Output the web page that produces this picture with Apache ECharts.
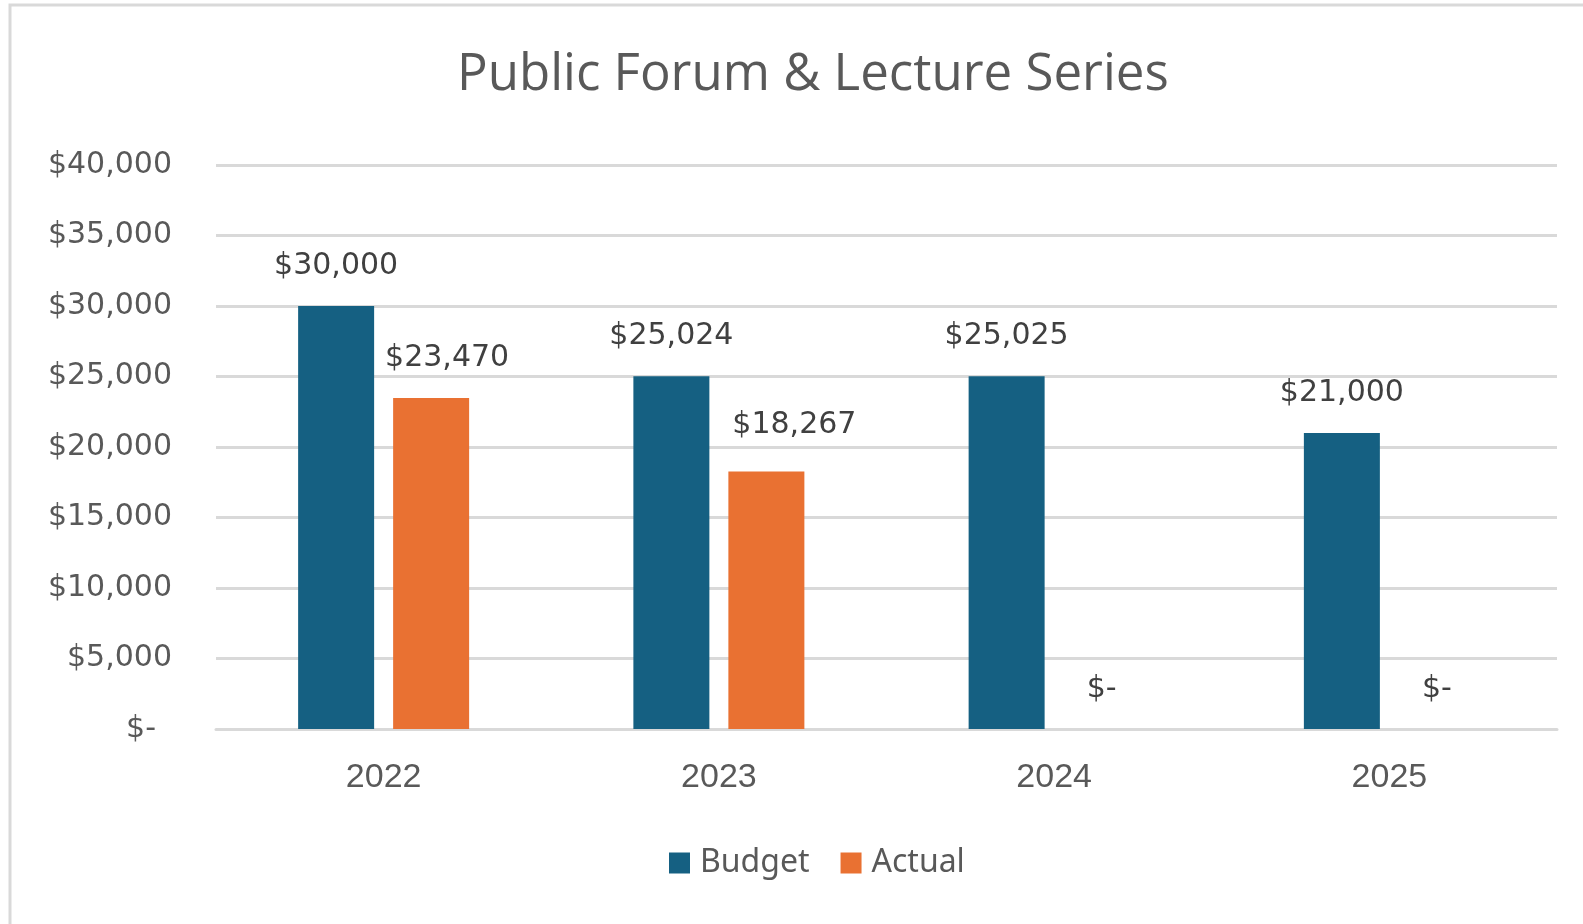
<!DOCTYPE html>
<html>
<head>
<meta charset="utf-8">
<script src="https://cdn.jsdelivr.net/npm/echarts@6/dist/echarts.min.js"></script>
<style>
  html, body { margin: 0; padding: 0; background: #fff; }
  #main { width: 1583px; height: 924px; }
</style>
</head>
<body>
<div id="main"></div>
<script>
// data
var years = ["2022", "2023", "2024", "2025"];
var budget = [30000, 25024, 25025, 21000];
var actual = [23470, 18267, 0, 0];
var yTicks = [0, 5000, 10000, 15000, 20000, 25000, 30000, 35000, 40000];

function money(v) {
  if (v === 0) return "$-";
  return "$" + v.toLocaleString("en-US");
}

// the Actual labels were nudged by hand in the original chart
var actualLabelNudge = [[16, 0], [28, -6], [0, 0], [0, 0]];

var labelStyle = {
  show: true,
  position: "top",
  distance: 25,
  fontFamily: "DejaVu Sans",
  fontSize: 30,
  color: "#404040",
  formatter: function (p) { return money(p.value); }
};

var myChart = echarts.init(document.getElementById("main"));
myChart.setOption({
  animation: false,
  backgroundColor: "#fff",
  color: ["#156082", "#E97132"],
  graphic: [{
    type: "rect",
    shape: { x: 10, y: 5, width: 1700, height: 1100 },
    style: { fill: "none", stroke: "#d9d9d9", lineWidth: 3 },
    silent: true
  }],
  title: {
    text: "Public Forum & Lecture Series",
    left: 452,
    top: 45,
    textStyle: {
      fontFamily: "Open Sans",
      fontSize: 51,
      fontWeight: "normal",
      color: "#595959"
    }
  },
  legend: {
    data: ["Budget", "Actual"],
    left: 664,
    top: 842,
    itemWidth: 21,
    itemHeight: 21,
    itemGap: 31,
    icon: "rect",
    textStyle: {
      fontFamily: "Noto Sans",
      fontSize: 32,
      color: "#595959",
      padding: [0, 0, 0, 5]
    }
  },
  grid: {
    left: 216,
    right: 26,
    top: 165,
    bottom: 195
  },
  xAxis: {
    type: "category",
    data: years,
    axisTick: { show: false },
    axisLine: { lineStyle: { color: "#d9d9d9", width: 3 } },
    axisLabel: {
      margin: 32,
      fontFamily: "Liberation Sans",
      fontSize: 34,
      color: "#595959"
    }
  },
  yAxis: {
    type: "value",
    min: yTicks[0],
    max: yTicks[yTicks.length - 1],
    interval: 5000,
    axisLine: { show: false },
    axisTick: { show: false },
    splitLine: { lineStyle: { color: "#d9d9d9", width: 3 } },
    axisLabel: {
      margin: 44,
      fontFamily: "DejaVu Sans",
      fontSize: 30,
      color: "#595959",
      formatter: function (v) {
        return v === 0 ? "{d|$-}" : money(v);
      },
      rich: {
        d: { fontFamily: "DejaVu Sans", fontSize: 30, color: "#595959", padding: [0, 16, 0, 0] }
      }
    }
  },
  series: [
    {
      name: "Budget",
      type: "bar",
      data: budget,
      barWidth: 76,
      barGap: "25%",
      label: labelStyle
    },
    {
      name: "Actual",
      type: "bar",
      data: actual.map(function (v, i) {
        return { value: v, label: { offset: actualLabelNudge[i] } };
      }),
      barWidth: 76,
      label: labelStyle
    }
  ]
});
window.addEventListener("resize", function () {
  myChart.resize();
});
</script>
</body>
</html>
